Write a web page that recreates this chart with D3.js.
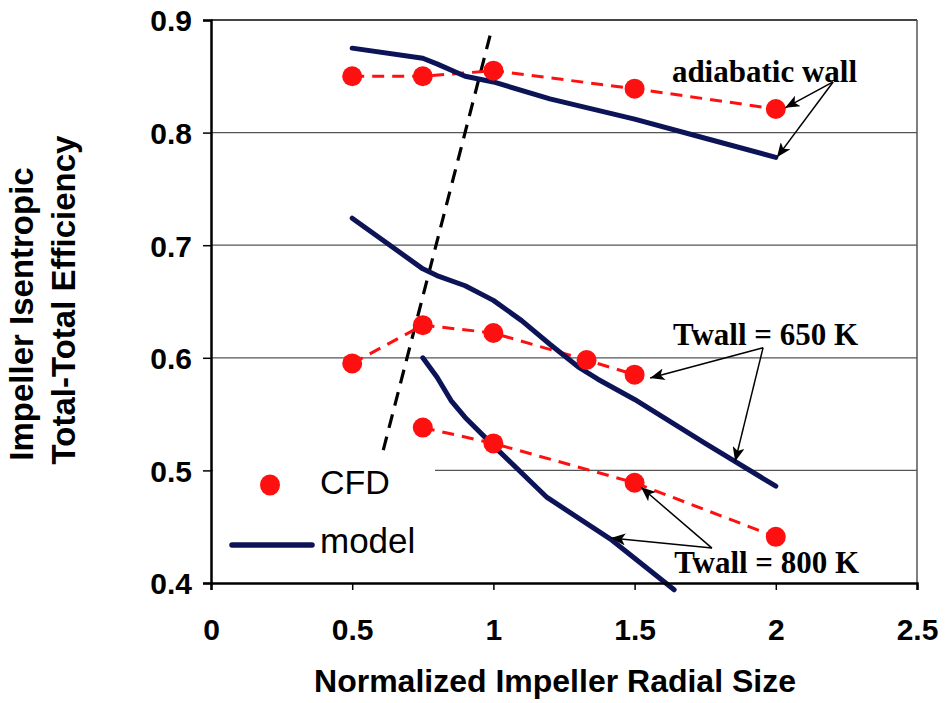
<!DOCTYPE html>
<html>
<head>
<meta charset="utf-8">
<script src="https://cdn.jsdelivr.net/npm/d3@7/dist/d3.min.js"></script>
<style>
  html, body { margin: 0; padding: 0; background: #fff; }
  svg { display: block; }
</style>
</head>
<body>
<svg id="chart" width="947" height="703"></svg>
<script>
// ---------------- DATA ----------------
const xTicks = [0, 0.5, 1, 1.5, 2, 2.5];
const xTickLabels = ["0", "0.5", "1", "1.5", "2", "2.5"];
const yTicks = [0.4, 0.5, 0.6, 0.7, 0.8, 0.9];
const yTickLabels = ["0.4", "0.5", "0.6", "0.7", "0.8", "0.9"];

// CFD points
const cfdAdiabaticX = [0.5, 0.75, 1.0, 1.5, 2.0];
const cfdAdiabaticY = [0.850, 0.850, 0.855, 0.839, 0.821];
const cfd650X = [0.5, 0.75, 1.0, 1.33, 1.5];
const cfd650Y = [0.595, 0.629, 0.622, 0.598, 0.585];
const cfd800X = [0.75, 1.0, 1.5, 2.0];
const cfd800Y = [0.538, 0.524, 0.489, 0.441];

// model curves
const modelAdiabaticX = [0.5, 0.75, 0.8, 0.9, 1.0, 1.2, 1.5, 1.75, 2.0];
const modelAdiabaticY = [0.875, 0.866, 0.861, 0.850, 0.845, 0.830, 0.812, 0.795, 0.778];
const model650X = [0.5, 0.75, 0.8, 0.9, 1.0, 1.1, 1.2, 1.3, 1.37, 1.5, 1.75, 2.0];
const model650Y = [0.724, 0.679, 0.673, 0.664, 0.651, 0.633, 0.612, 0.592, 0.581, 0.563, 0.524, 0.486];
const model800X = [0.75, 0.8, 0.85, 0.9, 1.0, 1.19, 1.42, 1.64];
const model800Y = [0.600, 0.583, 0.562, 0.547, 0.522, 0.476, 0.438, 0.394];

// dashed boundary line
const boundaryX = [0.61, 0.99];
const boundaryY = [0.518, 0.888];

// annotations: label, label anchor (x,y), arrow origin (x,y), arrow tips
const annLabels = ["adiabatic wall", "Twall = 650 K", "Twall = 800 K"];
const annTextX = [1.632, 1.636, 1.640];
const annTextY = [0.845, 0.611, 0.409];
const annFromX = [2.203, 1.955, 1.774];
const annFromY = [0.845, 0.609, 0.431];
const annTipsX = [[2.033, 2.004], [1.555, 1.856], [1.523, 1.416]];
const annTipsY = [[0.822, 0.778], [0.582, 0.508], [0.485, 0.440]];

const legendLabels = ["CFD", "model"];
const xTitle = "Normalized Impeller Radial Size";
const yTitleLines = ["Impeller Isentropic", "Total-Total Efficiency"];

// ---------------- DRAW ----------------
const RED = "#ff1010";
const NAVY = "#0c1457";
const SANS = "Liberation Sans, Arial, sans-serif";
const SERIF = "Liberation Serif, Times New Roman, serif";
const svg = d3.select("#chart");
const pL = 211, pR = 917, pT = 20, pB = 583;
const x = d3.scaleLinear().domain([0, 2.5]).range([pL, pR]);
const y = d3.scaleLinear().domain([0.4, 0.9]).range([pB, pT]);

svg.append("rect").attr("width", 947).attr("height", 703).attr("fill", "#fff");

// gridlines
svg.append("g").selectAll("line").data(yTicks.filter(d => d > 0.4)).join("line")
  .attr("x1", pL).attr("x2", pR)
  .attr("y1", d => y(d)).attr("y2", d => y(d))
  .attr("stroke", "#555").attr("stroke-width", 1.3);
// right border
svg.append("line").attr("x1", pR).attr("x2", pR).attr("y1", pT).attr("y2", pB)
  .attr("stroke", "#555").attr("stroke-width", 1.5);

const pair = (xs, ys) => xs.map((v, i) => [v, ys[i]]);
const line = d3.line().x(d => x(d[0])).y(d => y(d[1]));

// dashed boundary
svg.append("path").datum(pair(boundaryX, boundaryY)).attr("d", line)
  .attr("fill", "none").attr("stroke", "#000").attr("stroke-width", 3.2)
  .attr("stroke-dasharray", "14,9");

// CFD dashed lines
[[cfdAdiabaticX, cfdAdiabaticY], [cfd650X, cfd650Y], [cfd800X, cfd800Y]].forEach(([xs, ys]) => {
  svg.append("path").datum(pair(xs, ys)).attr("d", line)
    .attr("fill", "none").attr("stroke", RED).attr("stroke-width", 3)
    .attr("stroke-dasharray", "12,8");
});

// model lines
[[modelAdiabaticX, modelAdiabaticY], [model650X, model650Y], [model800X, model800Y]].forEach(([xs, ys]) => {
  svg.append("path").datum(pair(xs, ys)).attr("d", line)
    .attr("fill", "none").attr("stroke", NAVY).attr("stroke-width", 5)
    .attr("stroke-linejoin", "round").attr("stroke-linecap", "round");
});

// CFD markers
[[cfdAdiabaticX, cfdAdiabaticY], [cfd650X, cfd650Y], [cfd800X, cfd800Y]].forEach(([xs, ys]) => {
  svg.append("g").selectAll("circle").data(pair(xs, ys)).join("circle")
    .attr("cx", d => x(d[0])).attr("cy", d => y(d[1])).attr("r", 10)
    .attr("fill", RED);
});

// legend box
svg.append("rect").attr("x", pL + 2).attr("y", 452).attr("width", 435 - pL - 2).attr("height", pB - 452 - 1)
  .attr("fill", "#fff");
svg.append("ellipse").attr("cx", 270).attr("cy", 485).attr("rx", 10).attr("ry", 10.5).attr("fill", RED);
svg.append("text").attr("x", 320).attr("y", 494).text(legendLabels[0])
  .attr("font-family", SANS).attr("font-size", 34).attr("fill", "#000");
svg.append("line").attr("x1", 232).attr("x2", 312).attr("y1", 545).attr("y2", 545)
  .attr("stroke", NAVY).attr("stroke-width", 5.5).attr("stroke-linecap", "round");
svg.append("text").attr("x", 320).attr("y", 553).text(legendLabels[1])
  .attr("font-family", SANS).attr("font-size", 35).attr("fill", "#000");

// top border
svg.append("line").attr("x1", pL).attr("x2", pR).attr("y1", pT).attr("y2", pT)
  .attr("stroke", "#444").attr("stroke-width", 2);

// axes
const yAxis = d3.axisLeft(y).tickValues(yTicks).tickFormat((d, i) => yTickLabels[i])
  .tickSize(8).tickPadding(11);
const gy = svg.append("g").attr("transform", `translate(${pL},0)`).call(yAxis);
const xAxis = d3.axisBottom(x).tickValues(xTicks).tickFormat((d, i) => xTickLabels[i])
  .tickSize(7).tickPadding(29);
const gx = svg.append("g").attr("transform", `translate(0,${pB})`).call(xAxis);
[gx, gy].forEach(g => {
  g.select(".domain").attr("stroke", "#000").attr("stroke-width", 2.5);
  g.selectAll(".tick line").attr("stroke", "#000").attr("stroke-width", 1.5);
  g.selectAll("text").attr("font-family", SANS)
    .attr("font-weight", "bold").attr("font-size", 30).attr("fill", "#000");
});
gy.selectAll("text").attr("dy", "0.36em");

// annotations
const defs = svg.append("defs");
defs.append("marker").attr("id", "ah").attr("viewBox", "0 0 12 10")
  .attr("refX", 12).attr("refY", 5).attr("markerWidth", 16).attr("markerHeight", 12)
  .attr("markerUnits", "userSpaceOnUse").attr("orient", "auto")
  .append("path").attr("d", "M0,0 L12,5 L0,10 L3,5 Z").attr("fill", "#000");

annLabels.forEach((lab, i) => {
  svg.append("text").attr("x", x(annTextX[i])).attr("y", y(annTextY[i])).text(lab)
    .attr("font-family", SERIF).attr("font-weight", "bold")
    .attr("font-size", 31).attr("fill", "#000");
  annTipsX[i].forEach((tx, j) => {
    svg.append("line").attr("x1", x(annFromX[i])).attr("y1", y(annFromY[i]))
      .attr("x2", x(tx)).attr("y2", y(annTipsY[i][j]))
      .attr("stroke", "#000").attr("stroke-width", 1.5).attr("marker-end", "url(#ah)");
  });
});

// axis titles
svg.append("text").attr("x", 555).attr("y", 692).attr("text-anchor", "middle").text(xTitle)
  .attr("font-family", SANS).attr("font-weight", "bold")
  .attr("font-size", 32).attr("fill", "#000");
const yt = svg.append("text").attr("transform", "translate(0,305) rotate(-90)")
  .attr("text-anchor", "middle").attr("font-family", SANS)
  .attr("font-weight", "bold").attr("font-size", 33).attr("fill", "#000");
yt.append("tspan").attr("x", -9).attr("y", 33).text(yTitleLines[0]);
yt.append("tspan").attr("x", 5).attr("y", 75).text(yTitleLines[1]);
</script>
</body>
</html>
